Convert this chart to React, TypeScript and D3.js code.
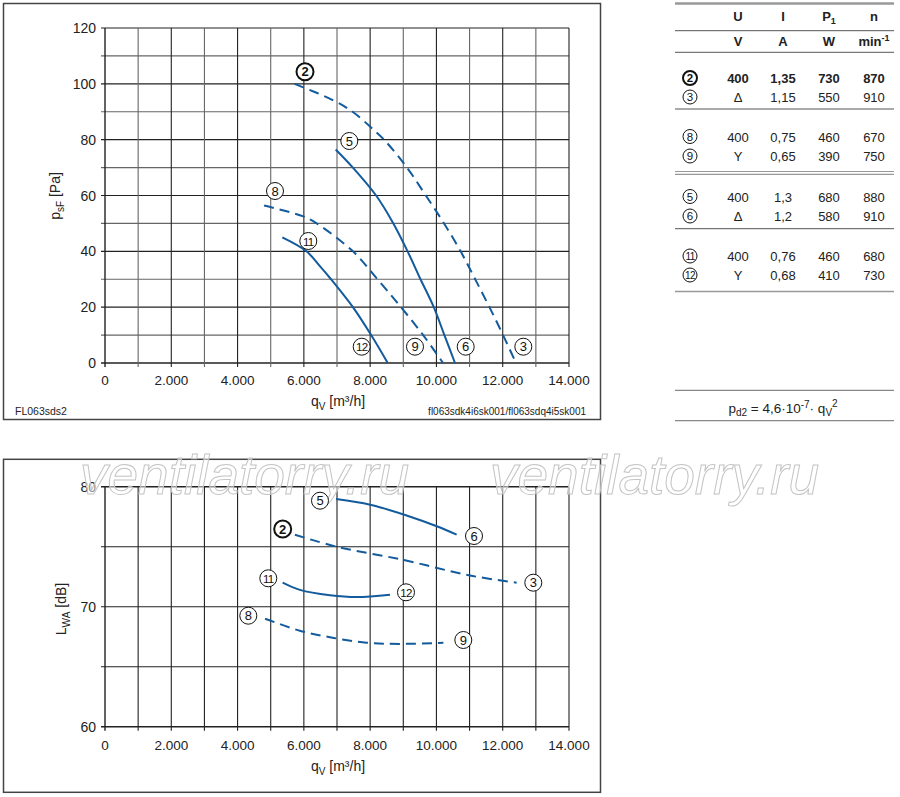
import React from "react";
import * as d3 from "d3";

// ---------- data ----------
const qTicks = [0, 1000, 2000, 3000, 4000, 5000, 6000, 7000, 8000, 9000, 10000, 11000, 12000, 13000, 14000];
const qLabelValues = [0, 2000, 4000, 6000, 8000, 10000, 12000, 14000];
const qLabels = ["0", "2.000", "4.000", "6.000", "8.000", "10.000", "12.000", "14.000"];
const pGrid = [0, 10, 20, 30, 40, 50, 60, 70, 80, 90, 100, 110, 120];
const pLabelValues = [0, 20, 40, 60, 80, 100, 120];
const lGrid = [60, 65, 70, 75, 80];
const lLabelValues = [60, 70, 80];

// pressure curves (q in m³/h, p in Pa)
const p23Q = [5720, 6870, 7470, 8100, 8420, 9110, 9680, 10230, 10730, 11170, 11600, 12010, 12400];
const p23P = [100, 94.2, 90, 83.6, 80, 70, 60, 50, 40, 30, 20, 10, 0];
const p56Q = [6960, 7480, 8180, 8700, 9130, 9520, 9920, 10240, 10560];
const p56P = [76.5, 70, 60, 50, 40, 30, 20, 10, 0];
const p89Q = [4800, 5985, 6385, 7480, 8220, 8930, 9600, 10200];
const p89P = [56.4, 52.5, 50, 40, 30, 20, 10, 0];
const p1112Q = [5350, 6080, 6490, 6820, 7480, 8030, 8530];
const p1112P = [45, 40, 34.6, 30, 20, 10, 0];

// sound power curves (q in m³/h, L in dB)
const l56Q = [6970, 8000, 9100, 10010, 10610];
const l56L = [78.97, 78.5, 77.6, 76.7, 76.0];
const l23Q = [5730, 6990, 9000, 11010, 12420];
const l23L = [76.0, 75.0, 73.9, 72.6, 72.0];
const l1112Q = [5360, 5880, 6790, 7600, 8600];
const l1112L = [72.0, 71.4, 70.95, 70.8, 71.0];
const l89Q = [4830, 5880, 6900, 7890, 8900, 10210];
const l89L = [69.0, 68.0, 67.4, 67.0, 66.9, 67.0];

// table
const tableIds = ["2", "3", "8", "9", "5", "6", "11", "12"];
const tableU = ["400", "Δ", "400", "Y", "400", "Δ", "400", "Y"];
const tableI = ["1,35", "1,15", "0,75", "0,65", "1,3", "1,2", "0,76", "0,68"];
const tableP = ["730", "550", "460", "390", "680", "580", "460", "410"];
const tableN = ["870", "910", "670", "750", "880", "910", "680", "730"];

// ---------- layout ----------
const FONT = "'Liberation Sans', Arial, sans-serif";
const BLUE = "#135b9c";
const x = d3.scaleLinear().domain([0, 14000]).range([105, 569]);
const yP = d3.scaleLinear().domain([0, 120]).range([363, 28]);
const yL = d3.scaleLinear().domain([60, 80]).range([726.7, 486.7]);

function Circ({ cx, cy, label, bold = false, r = 8.5, fs = 13 }: any) {
  const two = label.length > 1;
  return (
    <g>
      <circle cx={cx} cy={cy} r={r} fill="#fff" stroke="#111" strokeWidth={bold ? 2 : 1} />
      <text
        x={cx}
        y={cy + fs * 0.36}
        textAnchor="middle"
        fontSize={two ? fs - 1.5 : fs}
        fontWeight={bold ? "bold" : "normal"}
        fontFamily={FONT}
        fill="#111"
        letterSpacing={two ? -0.6 : 0}
      >
        {label}
      </text>
    </g>
  );
}

function Curve({ qs, vs, y, dashed }: any) {
  const pts: [number, number][] = qs.map((q: number, i: number) => [x(q), y(vs[i])]);
  const line = d3.line().curve(d3.curveCatmullRom.alpha(0.5));
  return (
    <path
      d={line(pts) || ""}
      fill="none"
      stroke={BLUE}
      strokeWidth={2}
      strokeDasharray={dashed ? "10,6" : undefined}
    />
  );
}

export default function App() {
  const rowY = [83, 102, 141.5, 161, 201.5, 221, 261, 280];
  const cols = [738, 783, 829, 874];
  return (
    <svg
      width={900}
      height={797}
      style={{ position: "absolute", left: 0, top: 0, background: "#fff" }}
      fontFamily={FONT}
    >
      <rect x={0} y={0} width={900} height={797} fill="#fff" />

      {/* ===== TOP CHART ===== */}
      <rect x={3.5} y={3.5} width={597} height={416} fill="none" stroke="#444" strokeWidth={1.5} />
      {pGrid.map((p) => (
        <line
          key={"hp" + p}
          x1={101}
          x2={x(14000)}
          y1={yP(p)}
          y2={yP(p)}
          stroke={p % 20 === 0 ? "#222" : "#666"}
          strokeWidth={p === 0 ? 1.4 : 1.1}
        />
      ))}
      {qTicks.map((q) => (
        <line
          key={"vp" + q}
          x1={x(q)}
          x2={x(q)}
          y1={yP(120)}
          y2={yP(0) + 4}
          stroke={q % 2000 === 0 ? "#222" : "#666"}
          strokeWidth={q === 0 ? 1.4 : 1.1}
        />
      ))}
      {pLabelValues.map((p) => (
        <text key={"pl" + p} x={96} y={yP(p) + 5} textAnchor="end" fontSize={14} fill="#222">
          {p}
        </text>
      ))}
      {qLabelValues.map((q, i) => (
        <text key={"ql" + q} x={x(q)} y={385} textAnchor="middle" fontSize={13.5} fill="#222">
          {qLabels[i]}
        </text>
      ))}
      <text x={338} y={406} textAnchor="middle" fontSize={14} fill="#222">
        q<tspan fontSize={10} dy={4}>V</tspan>
        <tspan dy={-4}> [m³/h]</tspan>
      </text>
      <text transform="translate(60,196) rotate(-90)" textAnchor="middle" fontSize={14} fill="#222">
        p<tspan fontSize={10} dy={4}>sF</tspan>
        <tspan dy={-4}> [Pa]</tspan>
      </text>
      <text x={15} y={415} fontSize={10.5} fill="#222">
        FL063sds2
      </text>
      <text x={586} y={415} textAnchor="end" fontSize={10} fill="#222">
        fl063sdk4i6sk001/fl063sdq4i5sk001
      </text>

      <Curve qs={p23Q} vs={p23P} y={yP} dashed />
      <Curve qs={p56Q} vs={p56P} y={yP} />
      <Curve qs={p89Q} vs={p89P} y={yP} dashed />
      <Curve qs={p1112Q} vs={p1112P} y={yP} />

      <Circ cx={305} cy={71.7} label="2" bold />
      <Circ cx={349.3} cy={141} label="5" />
      <Circ cx={275} cy={191} label="8" />
      <Circ cx={308.3} cy={241} label="11" />
      <Circ cx={361.7} cy={346.7} label="12" />
      <Circ cx={415} cy={346.7} label="9" />
      <Circ cx={465.7} cy={346.7} label="6" />
      <Circ cx={523.3} cy={346.7} label="3" />

      {/* ===== TABLE ===== */}
      <line x1={675} x2={894} y1={3.5} y2={3.5} stroke="#999" strokeWidth={2.5} />
      <line x1={675} x2={894} y1={30.7} y2={30.7} stroke="#555" strokeWidth={1} />
      <line x1={675} x2={894} y1={52.3} y2={52.3} stroke="#555" strokeWidth={1} />
      <line x1={675} x2={894} y1={109} y2={109} stroke="#555" strokeWidth={1} />
      <line x1={675} x2={894} y1={171.5} y2={171.5} stroke="#999" strokeWidth={1.2} />
      <line x1={675} x2={894} y1={174.3} y2={174.3} stroke="#999" strokeWidth={1.2} />
      <line x1={675} x2={894} y1={228.7} y2={228.7} stroke="#555" strokeWidth={1} />
      <line x1={675} x2={894} y1={291.5} y2={291.5} stroke="#999" strokeWidth={1.5} />

      <g fontSize={13} fontWeight="bold" fill="#222" textAnchor="middle">
        <text x={cols[0]} y={21}>U</text>
        <text x={cols[1]} y={21}>I</text>
        <text x={cols[2]} y={21}>
          P<tspan fontSize={9} dy={3}>1</tspan>
        </text>
        <text x={cols[3]} y={21}>n</text>
        <text x={cols[0]} y={46}>V</text>
        <text x={cols[1]} y={46}>A</text>
        <text x={cols[2]} y={46}>W</text>
        <text x={cols[3]} y={46}>
          min<tspan fontSize={9} dy={-5}>-1</tspan>
        </text>
      </g>
      {tableIds.map((id, i) => {
        const b = i === 0;
        return (
          <g key={"row" + id} fontSize={13} fill="#222" textAnchor="middle" fontWeight={b ? "bold" : "normal"}>
            <Circ cx={690} cy={rowY[i] - 5} label={id} bold={b} r={7} fs={11.5} />
            <text x={cols[0]} y={rowY[i]}>{tableU[i]}</text>
            <text x={cols[1]} y={rowY[i]}>{tableI[i]}</text>
            <text x={cols[2]} y={rowY[i]}>{tableP[i]}</text>
            <text x={cols[3]} y={rowY[i]}>{tableN[i]}</text>
          </g>
        );
      })}

      <line x1={675} x2={894} y1={390.3} y2={390.3} stroke="#888" strokeWidth={1.3} />
      <line x1={675} x2={894} y1={420.7} y2={420.7} stroke="#888" strokeWidth={1.3} />
      <text x={783} y={413} textAnchor="middle" fontSize={13.5} fill="#222">
        p<tspan fontSize={10} dy={3}>d2</tspan>
        <tspan dy={-3}> = 4,6·10</tspan>
        <tspan fontSize={10} dy={-5}>-7</tspan>
        <tspan dy={5}>· q</tspan>
        <tspan fontSize={10} dy={3}>V</tspan>
        <tspan fontSize={10} dy={-9}>2</tspan>
      </text>

      {/* ===== BOTTOM CHART ===== */}
      <rect x={3.5} y={459.3} width={597} height={333} fill="none" stroke="#444" strokeWidth={1.5} />
      {lGrid.map((l) => (
        <line
          key={"hl" + l}
          x1={101}
          x2={x(14000)}
          y1={yL(l)}
          y2={yL(l)}
          stroke="#222"
          strokeWidth={l === 60 || l === 80 ? 1.4 : 1.1}
        />
      ))}
      {qTicks.map((q) => (
        <line
          key={"vl" + q}
          x1={x(q)}
          x2={x(q)}
          y1={yL(80)}
          y2={yL(60) + 4}
          stroke="#222"
          strokeWidth={q === 0 ? 1.4 : 1.1}
        />
      ))}
      {lLabelValues.map((l) => (
        <text key={"ll" + l} x={96} y={yL(l) + 5} textAnchor="end" fontSize={14} fill="#222">
          {l}
        </text>
      ))}
      {qLabelValues.map((q, i) => (
        <text key={"qlb" + q} x={x(q)} y={750} textAnchor="middle" fontSize={13.5} fill="#222">
          {qLabels[i]}
        </text>
      ))}
      <text x={338} y={771} textAnchor="middle" fontSize={14} fill="#222">
        q<tspan fontSize={10} dy={4}>V</tspan>
        <tspan dy={-4}> [m³/h]</tspan>
      </text>
      <text transform="translate(66,609) rotate(-90)" textAnchor="middle" fontSize={14} fill="#222">
        L<tspan fontSize={10} dy={4}>WA</tspan>
        <tspan dy={-4}> [dB]</tspan>
      </text>

      {/* watermark */}
      <g fontSize={55} fontStyle="italic" fill="#fff" fillOpacity={0.5} stroke="#c4c4c4" strokeWidth={1}>
        <text x={80} y={494}>ventilatorry.ru</text>
        <text x={490} y={494}>ventilatorry.ru</text>
      </g>

      <Curve qs={l56Q} vs={l56L} y={yL} />
      <Curve qs={l23Q} vs={l23L} y={yL} dashed />
      <Curve qs={l1112Q} vs={l1112L} y={yL} />
      <Curve qs={l89Q} vs={l89L} y={yL} dashed />

      <Circ cx={320} cy={500.7} label="5" />
      <Circ cx={282.7} cy={529} label="2" bold />
      <Circ cx={474} cy={536} label="6" />
      <Circ cx={533.3} cy={582.7} label="3" />
      <Circ cx={268.3} cy={578.3} label="11" />
      <Circ cx={406} cy={592.3} label="12" />
      <Circ cx={248.3} cy={615.7} label="8" />
      <Circ cx={463.3} cy={640} label="9" />
    </svg>
  );
}
